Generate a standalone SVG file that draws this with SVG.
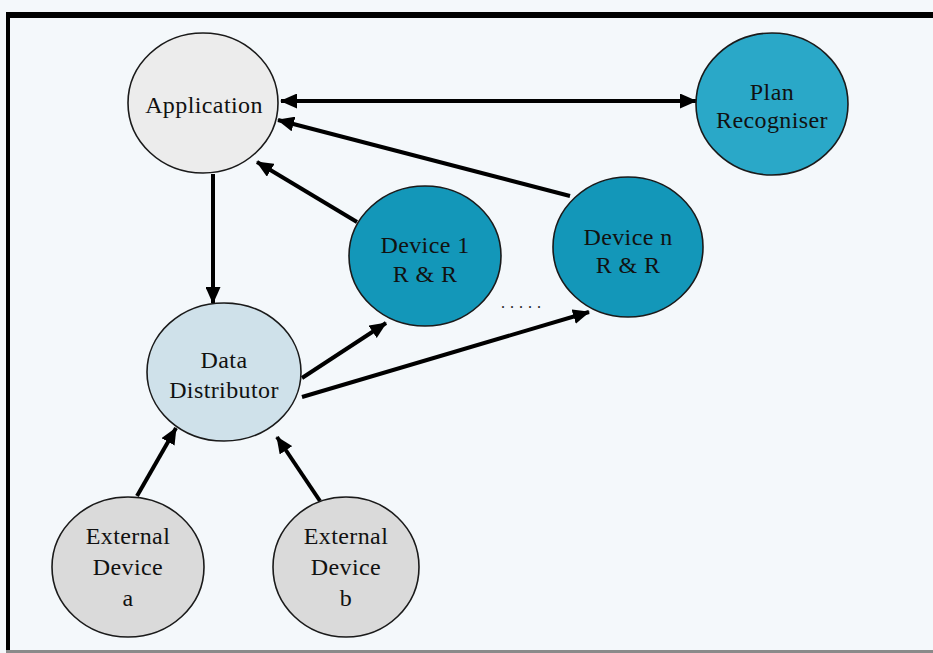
<svg xmlns="http://www.w3.org/2000/svg" width="933" height="653" viewBox="0 0 933 653">
  <defs>
    <marker id="arrow" viewBox="0 0 17 15" refX="16" refY="7.5" markerWidth="17" markerHeight="15" markerUnits="userSpaceOnUse" orient="auto-start-reverse">
      <path d="M0,0 L17,7.5 L0,15 z" fill="#000"/>
    </marker>
  </defs>
  <style>
    .node { stroke: #1a1a1a; stroke-width: 1.6; }
    .label { font-family: "Liberation Serif", "Times New Roman", serif; font-size: 24px; letter-spacing: 0.4px; fill: #111; text-anchor: middle; }
    .edge { stroke: #000; stroke-width: 4; fill: none; }
    .app { fill: #ececec; }
    .plan { fill: #2aa8c8; }
    .dev { fill: #1397b9; }
    .dist { fill: #cfe1ea; }
    .ext { fill: #dadada; }
  </style>

  <!-- background and frame -->
  <rect x="0" y="0" width="933" height="653" fill="#f4f8fb"/>
  <rect x="8" y="12" width="925" height="6" fill="#000"/>
  <rect x="6" y="12" width="4" height="641" fill="#000"/>
  <rect x="6" y="650" width="927" height="3" fill="#8a8a8a"/>

  <!-- connectors -->
  <g id="connectors">
    <line class="edge" x1="281" y1="101" x2="696" y2="101" marker-start="url(#arrow)" marker-end="url(#arrow)"/>
    <line class="edge" x1="570" y1="196" x2="278" y2="120" marker-end="url(#arrow)"/>
    <line class="edge" x1="357" y1="222" x2="257" y2="162" marker-end="url(#arrow)"/>
    <line class="edge" x1="213" y1="174" x2="213" y2="303" marker-end="url(#arrow)"/>
    <line class="edge" x1="302" y1="378" x2="386" y2="323" marker-end="url(#arrow)"/>
    <line class="edge" x1="302" y1="397" x2="589" y2="312" marker-end="url(#arrow)"/>
    <line class="edge" x1="137" y1="496" x2="176" y2="428" marker-end="url(#arrow)"/>
    <line class="edge" x1="320" y1="501" x2="277" y2="437" marker-end="url(#arrow)"/>
  </g>

  <!-- nodes -->
  <g id="application">
    <ellipse class="node app" cx="203" cy="103" rx="75" ry="70"/>
    <text class="label" x="204" y="113">Application</text>
  </g>
  <g id="plan-recogniser">
    <ellipse class="node plan" cx="772" cy="104" rx="76" ry="71"/>
    <text class="label" x="772" y="100">Plan</text>
    <text class="label" x="772" y="128">Recogniser</text>
  </g>
  <g id="device-1">
    <ellipse class="node dev" cx="425" cy="256" rx="76" ry="70"/>
    <text class="label" x="425" y="253">Device 1</text>
    <text class="label" x="425" y="282">R &amp; R</text>
  </g>
  <g id="device-n">
    <ellipse class="node dev" cx="628" cy="247" rx="75" ry="70"/>
    <text class="label" x="628" y="245">Device n</text>
    <text class="label" x="628" y="273">R &amp; R</text>
  </g>
  <g id="data-distributor">
    <ellipse class="node dist" cx="224" cy="372" rx="77" ry="69"/>
    <text class="label" x="224" y="368">Data</text>
    <text class="label" x="224" y="398">Distributor</text>
  </g>
  <g id="external-a">
    <ellipse class="node ext" cx="128" cy="567" rx="76" ry="70"/>
    <text class="label" x="128" y="544">External</text>
    <text class="label" x="128" y="575">Device</text>
    <text class="label" x="128" y="606">a</text>
  </g>
  <g id="external-b">
    <ellipse class="node ext" cx="346" cy="567" rx="73" ry="70"/>
    <text class="label" x="346" y="544">External</text>
    <text class="label" x="346" y="575">Device</text>
    <text class="label" x="346" y="606">b</text>
  </g>

  <!-- ellipsis between device nodes -->
  <text x="501" y="308" font-family="Liberation Serif, serif" font-size="16" fill="#222" letter-spacing="5">.....</text>
</svg>
